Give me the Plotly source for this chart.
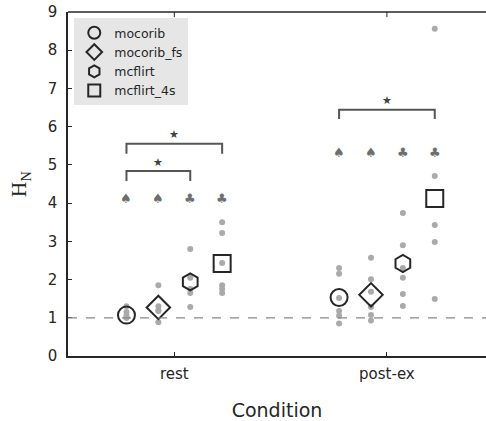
import plotly.graph_objects as go

conditions = ["rest", "post-ex"]
methods = ["mocorib", "mocorib_fs", "mcflirt", "mcflirt_4s"]
offsets = [-0.225, -0.075, 0.075, 0.225]
symbols = ["circle-open", "diamond-open", "hexagon-open", "square-open"]

# individual subject values per condition / method
points = {
    "rest": [
        [1.3, 1.15, 1.05, 1.0, 1.0],
        [1.85, 1.3, 1.2, 1.18, 0.88],
        [2.8, 2.05, 1.75, 1.65, 1.28],
        [3.5, 3.22, 2.43, 1.85, 1.75, 1.65],
    ],
    "post-ex": [
        [2.3, 2.15, 1.52, 1.18, 1.05, 0.85],
        [2.57, 2.01, 1.68, 1.28, 1.07, 0.93],
        [3.74, 2.9, 2.3, 2.05, 1.62, 1.31],
        [8.56, 4.71, 3.43, 2.98, 1.49],
    ],
}
# summary markers per condition / method
summary = {
    "rest": [1.07, 1.27, 1.94, 2.42],
    "post-ex": [1.53, 1.6, 2.42, 4.12],
}
sig_symbols = ["♠", "♠", "♣", "♣"]
sig_y = {"rest": 4.12, "post-ex": 5.32}
# brackets: (condition, method_a, method_b, bar height, leg bottom)
brackets = [
    ("rest", 0, 3, 5.55, 5.29),
    ("rest", 0, 2, 4.84, 4.58),
    ("post-ex", 0, 3, 6.44, 6.2),
]

dark = "#262626"
gray = "#aaaaaa"
fig = go.Figure()

for ci, cond in enumerate(conditions):
    for mi in range(4):
        vals = points[cond][mi]
        fig.add_trace(go.Scatter(
            x=[ci + offsets[mi]] * len(vals), y=vals, mode="markers",
            marker=dict(color=gray, size=6), showlegend=False, hoverinfo="skip"))

for mi, m in enumerate(methods):
    xs = [ci + offsets[mi] for ci in range(len(conditions))]
    ys = [summary[c][mi] for c in conditions]
    fig.add_trace(go.Scatter(
        x=xs, y=ys, mode="markers", name=m,
        marker=dict(symbol=symbols[mi], size=17 if mi != 1 else 18,
                    color=dark, line=dict(width=2, color=dark))))

for ci, cond in enumerate(conditions):
    for mi in range(4):
        fig.add_annotation(x=ci + offsets[mi], y=sig_y[cond], text=sig_symbols[mi],
                           showarrow=False, font=dict(size=13, color="#6e6e6e",
                                                      family="DejaVu Sans"))

for cond, a, b, h, lo in brackets:
    ci = conditions.index(cond)
    xa, xb = ci + offsets[a], ci + offsets[b]
    fig.add_trace(go.Scatter(x=[xa, xa, xb, xb], y=[lo, h, h, lo], mode="lines",
                             line=dict(color="#555555", width=2), showlegend=False,
                             hoverinfo="skip"))
    fig.add_annotation(x=(xa + xb) / 2, y=h, yshift=9, text="★", showarrow=False,
                       font=dict(size=11, color="#444444", family="DejaVu Sans"))

fig.add_hline(y=1, line=dict(color="#888888", width=1.2, dash="dash"))

# top spine and top ticks
fig.add_shape(type="line", xref="paper", yref="paper", x0=0, x1=1, y0=1, y1=1,
              line=dict(color=dark, width=1.5))
for ci in range(len(conditions)):
    fig.add_shape(type="line", xref="x", yref="paper", x0=ci, x1=ci, y0=1, y1=0.985,
                  line=dict(color=dark, width=1))

fig.update_layout(
    width=486, height=421,
    margin=dict(l=68, r=0, t=12, b=65),
    plot_bgcolor="white", paper_bgcolor="white",
    font=dict(family="DejaVu Sans", color=dark, size=15),
    legend=dict(x=0.015, y=0.982, xanchor="left", yanchor="top",
                bgcolor="#e6e6e6", font=dict(size=12.5, color=dark),
                itemsizing="constant", itemwidth=30, tracegroupgap=0),
    xaxis=dict(range=[-0.5, 1.466], tickvals=[0, 1], ticktext=conditions,
               showline=True, linecolor=dark, linewidth=1.5, ticks="inside",
               ticklen=4, tickcolor=dark, showgrid=False, zeroline=False,
               ticklabelstandoff=3,
               title=dict(text="Condition", font=dict(size=19), standoff=22)),
    yaxis=dict(range=[0, 9], tickvals=list(range(10)), showline=True,
               linecolor=dark, linewidth=1.5, ticks="inside", ticklen=4,
               tickcolor=dark, showgrid=False, zeroline=False,
               ticklabelstandoff=6,
               title=dict(text="H<sub>N</sub>", font=dict(size=21, family="Liberation Serif"),
                          standoff=15)),
)

fig.write_html("out.html")
